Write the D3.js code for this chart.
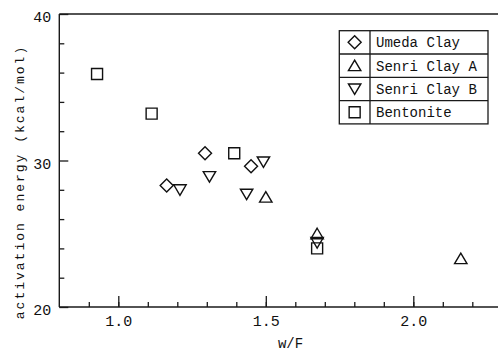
<!DOCTYPE html>
<html>
<head>
<meta charset="utf-8">
<script src="https://cdn.jsdelivr.net/npm/d3@7.9.0/dist/d3.min.js"></script>
<style>
  html, body { margin: 0; padding: 0; background: #fff; }
  svg { display: block; }
  text { font-family: "Liberation Mono", "DejaVu Sans Mono", monospace; fill: #111; }
</style>
</head>
<body>
<svg id="chart" width="498" height="353"></svg>
<script>
// series names and values
const seriesNames = ['Umeda Clay', 'Senri Clay A', 'Senri Clay B', 'Bentonite'];
const seriesShapes = ['diamond', 'up', 'down', 'square'];

const umedaX = [1.164, 1.294, 1.450];
const umedaY = [28.3, 30.5, 29.6];

const senriAX = [1.500, 1.674, 2.161];
const senriAY = [27.5, 25.0, 23.3];

const senriBX = [1.209, 1.309, 1.435, 1.492, 1.674];
const senriBY = [28.0, 28.9, 27.7, 29.9, 24.4];

const bentX = [0.928, 1.113, 1.393, 1.674];
const bentY = [35.9, 33.2, 30.5, 24.0];

const xMajor = [1.0, 1.5, 2.0];
const yMajor = [20, 30, 40];

const svg = d3.select('#chart');

const x = d3.scaleLinear().domain([0.8, 2.3]).range([59.3, 501.8]);
const y = d3.scaleLinear().domain([20, 40]).range([307, 14]);

// symbol paths, centered at 0,0
function shapePath(kind) {
  if (kind === 'square') return 'M-5.5,-5.5H5.5V5.5H-5.5Z';
  if (kind === 'diamond') return 'M0,-6.5L6.5,0L0,6.5L-6.5,0Z';
  if (kind === 'up') return 'M0,-5.5L6.2,5L-6.2,5Z';
  return 'M0,5.5L6.2,-5L-6.2,-5Z';
}

// frame
const frame = svg.append('g').attr('stroke', '#1a1a1a').attr('stroke-width', 1.4).attr('fill', 'none');
frame.append('line').attr('x1', x(0.8)).attr('x2', x(2.3)).attr('y1', y(20)).attr('y2', y(20));
frame.append('line').attr('x1', x(0.8)).attr('x2', x(2.3)).attr('y1', y(40)).attr('y2', y(40));
frame.append('line').attr('x1', x(0.8)).attr('x2', x(0.8)).attr('y1', y(20)).attr('y2', y(40));

// x axis: minor ticks then major ticks with labels
let xMinor = svg.append('g')
  .attr('transform', `translate(0,${y(20)})`)
  .call(d3.axisBottom(x).tickValues(d3.range(9, 23).map(d => d / 10)).tickSize(-5).tickFormat(''));
let xAxis = svg.append('g')
  .attr('transform', `translate(0,${y(20)})`)
  .call(d3.axisBottom(x).tickValues(xMajor).tickSize(-11).tickPadding(8).tickFormat(d3.format('.1f')));

let yMinor = svg.append('g')
  .attr('transform', `translate(${x(0.8)},0)`)
  .call(d3.axisLeft(y).tickValues([22, 24, 26, 28, 32, 34, 36, 38]).tickSize(-5).tickFormat(''));
let yAxis = svg.append('g')
  .attr('transform', `translate(${x(0.8)},0)`)
  .call(d3.axisLeft(y).tickValues(yMajor).tickSize(-9).tickPadding(8).tickFormat(d3.format('d')));

[xMinor, xAxis, yMinor, yAxis].forEach(g => {
  g.select('.domain').remove();
  g.selectAll('line').attr('stroke', '#1a1a1a').attr('stroke-width', 1.3);
  g.selectAll('text').style('font-size', '15px').attr('fill', '#111');
});
yAxis.selectAll('text').attr('dy', '0.5em');

// axis titles
svg.append('text')
  .attr('x', 290.5).attr('y', 348)
  .attr('text-anchor', 'middle')
  .style('font-size', '14px')
  .text('w/F');

svg.append('text')
  .attr('transform', 'translate(24,182) rotate(-90)')
  .attr('text-anchor', 'middle')
  .style('font-size', '13px')
  .style('letter-spacing', '2px')
  .text('activation energy (kcal/mol)');

// points
const seriesX = [umedaX, senriAX, senriBX, bentX];
const seriesY = [umedaY, senriAY, senriBY, bentY];

seriesNames.forEach((name, i) => {
  svg.append('g')
    .selectAll('path')
    .data(seriesX[i].map((v, j) => [v, seriesY[i][j]]))
    .join('path')
    .attr('d', shapePath(seriesShapes[i]))
    .attr('transform', d => `translate(${x(d[0])},${y(d[1])})`)
    .attr('fill', 'none')
    .attr('stroke', '#111')
    .attr('stroke-width', 1.4);
});

// legend table
const lg = svg.append('g');
const lgLeft = 339.3, lgRight = 488, lgTop = 30.7, rowH = 23.3, lgDiv = 370;
lg.append('rect')
  .attr('x', lgLeft).attr('y', lgTop)
  .attr('width', lgRight - lgLeft).attr('height', rowH * seriesNames.length)
  .attr('fill', '#fff').attr('stroke', '#1a1a1a').attr('stroke-width', 1.3);
lg.append('line')
  .attr('x1', lgDiv).attr('x2', lgDiv)
  .attr('y1', lgTop).attr('y2', lgTop + rowH * seriesNames.length)
  .attr('stroke', '#1a1a1a').attr('stroke-width', 1.3);

seriesNames.forEach((name, i) => {
  let cy = lgTop + rowH * i + rowH / 2;
  if (i > 0) {
    lg.append('line')
      .attr('x1', lgLeft).attr('x2', lgRight)
      .attr('y1', lgTop + rowH * i).attr('y2', lgTop + rowH * i)
      .attr('stroke', '#1a1a1a').attr('stroke-width', 1.3);
  }
  lg.append('path')
    .attr('d', shapePath(seriesShapes[i]))
    .attr('transform', `translate(${(lgLeft + lgDiv) / 2},${cy})`)
    .attr('fill', 'none').attr('stroke', '#111').attr('stroke-width', 1.4);
  lg.append('text')
    .attr('x', 376).attr('y', cy + 5)
    .style('font-size', '14px')
    .text(name);
});
</script>
</body>
</html>
